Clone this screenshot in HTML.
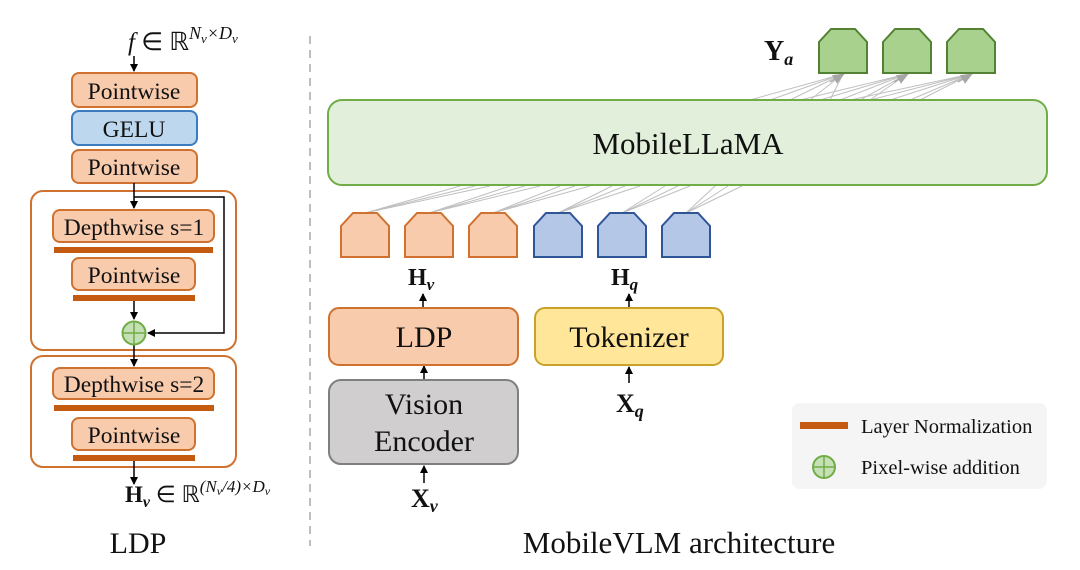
<!DOCTYPE html>
<html><head><meta charset="utf-8"><style>body{margin:0;background:#fff}svg{display:block}text{font-family:"Liberation Serif",serif;fill:#111}</style></head><body>
<svg width="1080" height="570" viewBox="0 0 1080 570" xmlns="http://www.w3.org/2000/svg">
<defs>
<marker id="a" markerWidth="8" markerHeight="8" refX="7" refY="4" orient="auto" markerUnits="userSpaceOnUse"><path d="M0,0 L8,4 L0,8 Z" fill="#000"/></marker>
<marker id="g" markerWidth="12" markerHeight="10" refX="11" refY="5" orient="auto" markerUnits="userSpaceOnUse"><path d="M0,0 L12,5 L0,10 Z" fill="#a6a6a6"/></marker>
</defs>
<!-- LEFT -->
<text x="128" y="50" font-size="25"><tspan font-style="italic">f</tspan> ∈ ℝ<tspan font-size="18" dy="-11" font-style="italic">N<tspan font-size="13" dy="4">v</tspan><tspan dy="-4">×D</tspan><tspan font-size="13" dy="4">v</tspan></tspan></text>
<line x1="134" y1="56" x2="134" y2="71" stroke="#000" stroke-width="1.5" marker-end="url(#a)"/>
<g stroke-width="2">
<rect x="72" y="73" width="125" height="34" rx="7" fill="#f8cbad" stroke="#d0722f"/>
<rect x="72" y="111" width="125" height="34" rx="7" fill="#bdd7ee" stroke="#3b7bbf"/>
<rect x="72" y="150" width="125" height="33" rx="7" fill="#f8cbad" stroke="#d0722f"/>
<rect x="31" y="191" width="205" height="159" rx="12" fill="none" stroke="#d0722f"/>
<rect x="53" y="210" width="161" height="32" rx="7" fill="#f8cbad" stroke="#d0722f"/>
<rect x="72" y="258" width="123" height="32" rx="7" fill="#f8cbad" stroke="#d0722f"/>
<rect x="31" y="356" width="205" height="111" rx="12" fill="none" stroke="#d0722f"/>
<rect x="53" y="368" width="161" height="31" rx="7" fill="#f8cbad" stroke="#d0722f"/>
<rect x="72" y="418" width="123" height="32" rx="7" fill="#f8cbad" stroke="#d0722f"/>
</g>
<g fill="#c55a11">
<rect x="54" y="247" width="159" height="6"/>
<rect x="73" y="295" width="122" height="6"/>
<rect x="54" y="405" width="160" height="6"/>
<rect x="73" y="455" width="122" height="6"/>
</g>
<g font-size="23.5" text-anchor="middle">
<text x="134" y="99">Pointwise</text>
<text x="134" y="137">GELU</text>
<text x="134" y="175">Pointwise</text>
<text x="134" y="235">Depthwise s=1</text>
<text x="134" y="283">Pointwise</text>
<text x="134" y="392">Depthwise s=2</text>
<text x="134" y="443">Pointwise</text>
</g>
<g stroke="#000" stroke-width="1.5" fill="none">
<line x1="134" y1="183" x2="134" y2="208" marker-end="url(#a)"/>
<polyline points="134,197 224,197 224,333 148,333" marker-end="url(#a)"/>
<line x1="134" y1="301" x2="134" y2="319" marker-end="url(#a)"/>
<line x1="134" y1="345" x2="134" y2="366" marker-end="url(#a)"/>
<line x1="134" y1="461" x2="134" y2="484" marker-end="url(#a)"/>
</g>
<circle cx="134" cy="333" r="11.5" fill="#c5e0b4" stroke="#70ad47" stroke-width="2"/>
<path d="M122.5,333 H145.5 M134,321.5 V344.5" stroke="#70ad47" stroke-width="1.5"/>
<text x="125" y="502" font-size="23"><tspan font-weight="bold">H</tspan><tspan font-size="16" dy="5" font-style="italic" font-weight="bold">v</tspan><tspan dy="-5"> ∈ ℝ</tspan><tspan font-size="17" dy="-10" font-style="italic">(N<tspan font-size="12" dy="3">v</tspan><tspan dy="-3">/4)×D</tspan><tspan font-size="12" dy="3">v</tspan></tspan></text>
<text x="138" y="553" font-size="30" text-anchor="middle">LDP</text>
<line x1="310" y1="36" x2="310" y2="546" stroke="#bfbfbf" stroke-width="2" stroke-dasharray="8,6"/>
<!-- RIGHT -->
<g stroke="#c0c0c0" stroke-width="1" fill="none">
<path d="M365,213 L460,186 M365,213 L475,186 M365,213 L490,186"/>
<path d="M429,213 L510,186 M429,213 L525,186 M429,213 L540,186"/>
<path d="M493,213 L560,186 M493,213 L575,186 M493,213 L590,186"/>
<path d="M558,213 L612,186 M558,213 L625,186 M558,213 L640,186"/>
<path d="M622,213 L665,186 M622,213 L678,186 M622,213 L690,186"/>
<path d="M686,213 L715,186 M686,213 L728,186 M686,213 L742,186"/>
<path d="M750,100 L843,74 M770,100 L843,74 M790,100 L843,74 M810,100 L843,74 M830,100 L843,74"/>
<path d="M800,100 L907,74 M820,100 L907,74 M840,100 L907,74 M860,100 L907,74 M870,100 L907,74"/>
<path d="M850,100 L971,74 M870,100 L971,74 M890,100 L971,74 M910,100 L971,74 M920,100 L971,74"/>
</g>
<g stroke="#a6a6a6" stroke-width="1.2">
<line x1="830" y1="82" x2="844" y2="74" marker-end="url(#g)"/>
<line x1="894" y1="82" x2="908" y2="74" marker-end="url(#g)"/>
<line x1="958" y1="82" x2="972" y2="74" marker-end="url(#g)"/>
</g>
<rect x="328" y="100" width="719" height="85" rx="14" fill="#e2efda" stroke="#70ad47" stroke-width="2"/>
<text x="688" y="154" font-size="31" text-anchor="middle">MobileLLaMA</text>
<g stroke-width="2">
<path d="M341,257 V226 L353,213 H377 L389,226 V257 Z" fill="#f8cbad" stroke="#d0722f"/>
<path d="M405,257 V226 L417,213 H441 L453,226 V257 Z" fill="#f8cbad" stroke="#d0722f"/>
<path d="M469,257 V226 L481,213 H505 L517,226 V257 Z" fill="#f8cbad" stroke="#d0722f"/>
<path d="M534,257 V226 L546,213 H570 L582,226 V257 Z" fill="#b4c7e7" stroke="#2f5597"/>
<path d="M598,257 V226 L610,213 H634 L646,226 V257 Z" fill="#b4c7e7" stroke="#2f5597"/>
<path d="M662,257 V226 L674,213 H698 L710,226 V257 Z" fill="#b4c7e7" stroke="#2f5597"/>
<path d="M819,73 V42 L831,29 H855 L867,42 V73 Z" fill="#a9d18e" stroke="#548235"/>
<path d="M883,73 V42 L895,29 H919 L931,42 V73 Z" fill="#a9d18e" stroke="#548235"/>
<path d="M947,73 V42 L959,29 H983 L995,42 V73 Z" fill="#a9d18e" stroke="#548235"/>
</g>
<text x="764" y="60" font-size="28" font-weight="bold">Y<tspan font-size="18" dy="5" font-style="italic">a</tspan></text>
<text x="408" y="285" font-size="24" font-weight="bold">H<tspan font-size="17" dy="5" font-style="italic">v</tspan></text>
<text x="611" y="285" font-size="24" font-weight="bold">H<tspan font-size="17" dy="5" font-style="italic">q</tspan></text>
<g stroke="#000" stroke-width="1.5">
<line x1="423" y1="307" x2="423" y2="294" marker-end="url(#a)"/>
<line x1="629" y1="307" x2="629" y2="294" marker-end="url(#a)"/>
<line x1="424" y1="379" x2="424" y2="366" marker-end="url(#a)"/>
<line x1="424" y1="483" x2="424" y2="466" marker-end="url(#a)"/>
<line x1="629" y1="383" x2="629" y2="367" marker-end="url(#a)"/>
</g>
<rect x="329" y="308" width="189" height="57" rx="10" fill="#f8cbad" stroke="#d0722f" stroke-width="2"/>
<text x="424" y="347" font-size="30" text-anchor="middle">LDP</text>
<rect x="535" y="308" width="188" height="57" rx="10" fill="#ffe699" stroke="#c9a227" stroke-width="2"/>
<text x="629" y="347" font-size="30" text-anchor="middle">Tokenizer</text>
<rect x="329" y="380" width="189" height="84" rx="12" fill="#d0cece" stroke="#7f7f7f" stroke-width="2"/>
<text x="424" y="414" font-size="30" text-anchor="middle">Vision</text>
<text x="424" y="451" font-size="30" text-anchor="middle">Encoder</text>
<text x="411" y="507" font-size="26" font-weight="bold">X<tspan font-size="18" dy="5" font-style="italic">v</tspan></text>
<text x="616" y="412" font-size="26" font-weight="bold">X<tspan font-size="18" dy="5" font-style="italic">q</tspan></text>
<text x="679" y="553" font-size="31" text-anchor="middle">MobileVLM architecture</text>
<rect x="792" y="403" width="255" height="86" rx="8" fill="#f5f5f5"/>
<rect x="800" y="422" width="48" height="7" fill="#c55a11"/>
<text x="861" y="433" font-size="20.5">Layer Normalization</text>
<circle cx="824" cy="467" r="11" fill="#c5e0b4" stroke="#70ad47" stroke-width="2"/>
<path d="M813,467 H835 M824,456 V478" stroke="#70ad47" stroke-width="1.5"/>
<text x="861" y="474" font-size="20.5">Pixel-wise addition</text>
</svg>
</body></html>
